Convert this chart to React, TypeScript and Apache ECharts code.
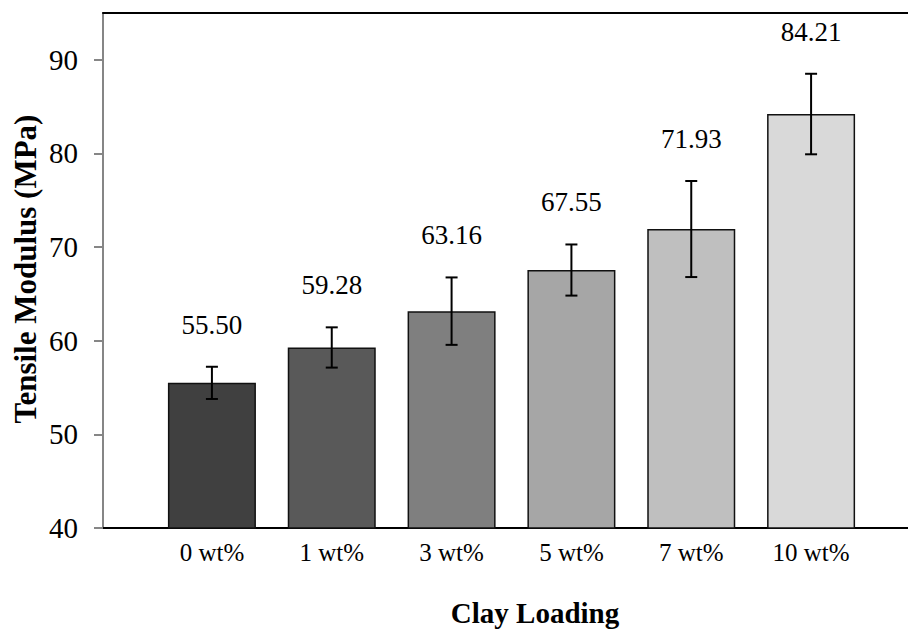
import React, { useEffect, useRef } from "react";
import * as echarts from "echarts";

const categories = ["0 wt%", "1 wt%", "3 wt%", "5 wt%", "7 wt%", "10 wt%"];
const values = [55.5, 59.28, 63.16, 67.55, 71.93, 84.21];
const errors = [1.72, 2.15, 3.6, 2.73, 5.13, 4.3];
const barColors = ["#404040", "#595959", "#7f7f7f", "#a6a6a6", "#bfbfbf", "#d9d9d9"];
const yMin = 40;
const yMax = 95;
const yInterval = 10;

const FONT = "Liberation Serif";

export default function App() {
  const ref = useRef<HTMLDivElement>(null);
  useEffect(() => {
    if (!ref.current) return;
    const chart = echarts.init(ref.current, null, { renderer: "svg" });
    const option: any = {
      animation: false,
      backgroundColor: "#ffffff",
      textStyle: { fontFamily: FONT },
      grid: [
        { left: 103, right: 0, top: 13, bottom: 101 },
        { left: 152, right: 37, top: 13, bottom: 101 },
      ],
      xAxis: [
        {
          gridIndex: 0,
          type: "value",
          min: 0,
          max: 1,
          position: "bottom",
          axisLine: { show: true, lineStyle: { color: "#000", width: 2 } },
          axisTick: { show: false },
          axisLabel: { show: false },
          splitLine: { show: false },
        },
        {
          gridIndex: 0,
          type: "value",
          min: 0,
          max: 1,
          position: "top",
          axisLine: { show: true, lineStyle: { color: "#000", width: 2 } },
          axisTick: { show: false },
          axisLabel: { show: false },
          splitLine: { show: false },
        },
        {
          gridIndex: 1,
          type: "category",
          data: categories,
          axisLine: { show: false },
          axisTick: { show: false },
          axisLabel: {
            fontFamily: FONT,
            fontSize: 25,
            color: "#000",
            margin: 12,
          },
        },
      ],
      yAxis: [
        {
          gridIndex: 0,
          type: "value",
          min: yMin,
          max: yMax,
          interval: yInterval,
          axisLine: { show: true, lineStyle: { color: "#868686", width: 2 } },
          axisTick: { show: true, length: 9, lineStyle: { color: "#868686", width: 2 } },
          axisLabel: {
            fontFamily: FONT,
            fontSize: 29,
            color: "#000",
            margin: 25,
            showMaxLabel: false,
          },
          splitLine: { show: false },
        },
        {
          gridIndex: 1,
          type: "value",
          min: yMin,
          max: yMax,
          interval: yInterval,
          show: false,
          splitLine: { show: false },
        },
      ],
      series: [
        {
          type: "bar",
          xAxisIndex: 2,
          yAxisIndex: 1,
          barWidth: 88,
          data: values.map((v, i) => ({
            value: v,
            itemStyle: { color: barColors[i], borderColor: "#111", borderWidth: 1.5 },
          })),
        },
        {
          type: "custom",
          xAxisIndex: 2,
          yAxisIndex: 1,
          data: categories.map((c, i) => [i, values[i], errors[i]]),
          renderItem: (params: any, api: any) => {
            const idx = api.value(0);
            const mean = api.value(1);
            const err = api.value(2);
            const top = api.coord([idx, mean + err]);
            const bot = api.coord([idx, mean - err]);
            const x = top[0];
            const cap = 6;
            const ls = { stroke: "#000", lineWidth: 2 };
            return {
              type: "group",
              children: [
                { type: "line", shape: { x1: x, y1: top[1], x2: x, y2: bot[1] }, style: ls },
                { type: "line", shape: { x1: x - cap, y1: top[1], x2: x + cap, y2: top[1] }, style: ls },
                { type: "line", shape: { x1: x - cap, y1: bot[1], x2: x + cap, y2: bot[1] }, style: ls },
                {
                  type: "text",
                  x: x,
                  y: top[1] - 42,
                  style: {
                    text: mean.toFixed(2),
                    fontFamily: FONT,
                    fontSize: 27,
                    fill: "#000",
                    align: "center",
                    verticalAlign: "middle",
                  },
                },
              ],
            };
          },
          z: 10,
        },
      ],
      graphic: [
        {
          type: "text",
          x: 25,
          y: 269,
          rotation: Math.PI / 2,
          style: {
            text: "Tensile Modulus (MPa)",
            fontFamily: FONT,
            fontSize: 31,
            fontWeight: "bold",
            fill: "#000",
            align: "center",
            verticalAlign: "middle",
          },
        },
        {
          type: "text",
          x: 535,
          y: 613,
          style: {
            text: "Clay Loading",
            fontFamily: FONT,
            fontSize: 29,
            fontWeight: "bold",
            fill: "#000",
            align: "center",
            verticalAlign: "middle",
          },
        },
      ],
    };
    chart.setOption(option);
    return () => chart.dispose();
  }, []);
  return <div ref={ref} style={{ width: 908, height: 629, position: "absolute", left: 0, top: 0 }} />;
}
